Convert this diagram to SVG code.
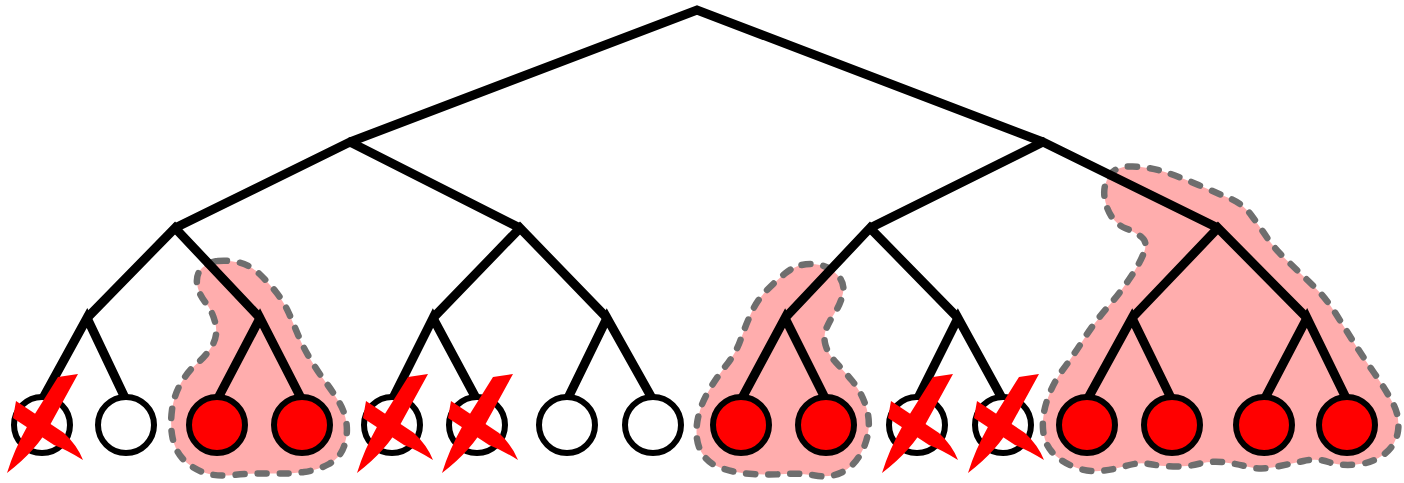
<svg xmlns="http://www.w3.org/2000/svg" xmlns:xlink="http://www.w3.org/1999/xlink" width="1404" height="483" viewBox="0 0 1404 483">
<style>
.blob{fill:#ffadad;stroke:#6e6e6e;stroke-width:6.5;stroke-dasharray:9 13;stroke-linecap:round;stroke-linejoin:round}
.edge{fill:none;stroke:#000;stroke-width:9;stroke-linejoin:miter;stroke-miterlimit:10}
.leaf{stroke:#000;stroke-width:6}
.on{fill:#ff0000}
.off{fill:#ffffff}
.x{fill:#ff0000}
</style>
<defs>
<g id="cross" class="x">
<path d="M16,-48 L36,-51 L8,0 Q-5,25 -35,48 Q-28,25 -14,0 Z"/>
<path d="M-26,-24 L22,8 Q35,20 41,35 Q25,25 12,20 L-29,-7 Z"/>
</g>
</defs>
<rect width="1404" height="483" fill="#fff"/>
<g id="highlights">
<path id="region-a" class="blob" d="M218,261 Q228,260 239,262.5 Q250,265 259,273.5 Q268,282 276,292 Q284,302 289,313.5 Q294,325 298.5,336 Q303,347 310.5,359.5 Q318,372 325.5,382 Q333,392 339,402 Q345,412 346.5,423.5 Q348,435 344,446.5 Q340,458 329,464 Q318,470 304,472 Q290,474 271.5,473.5 Q253,473 234,475 Q215,477 202.5,472 Q190,467 182.5,458.5 Q175,450 172.5,437.5 Q170,425 172,410 Q174,395 181,383 Q188,371 197,363.5 Q206,356 212,346 Q218,336 215.5,324 Q213,312 205.5,302.5 Q198,293 197,283.5 Q196,274 202,268 Q208,262 218,261Z"/>
<path id="region-b" class="blob" d="M801.5,265 Q810,263 820,265 Q830,267 837.5,275 Q845,283 843,293 Q841,303 835.5,311.5 Q830,320 826.5,328 Q823,336 825.5,345 Q828,354 835.5,362 Q843,370 851.5,380 Q860,390 865,403.5 Q870,417 868.5,430 Q867,443 860,455 Q853,467 841.5,472.5 Q830,478 815,475.5 Q800,473 785,474 Q770,475 752.5,474 Q735,473 721,468 Q707,463 701,451.5 Q695,440 697,424 Q699,408 707.5,393 Q716,378 726,365.5 Q736,353 740.5,340 Q745,327 751,313.5 Q757,300 767,290 Q777,280 785,273.5 Q793,267 801.5,265Z"/>
<path id="region-c" class="blob" d="M1109,176 Q1115,166 1132.5,166.5 Q1150,167 1165,172 Q1180,177 1198.5,185 Q1217,193 1230,198.5 Q1243,204 1251.5,215.5 Q1260,227 1267,237.5 Q1274,248 1287,260.5 Q1300,273 1313,285.5 Q1326,298 1336,314 Q1346,330 1354.5,343.5 Q1363,357 1374.5,373.5 Q1386,390 1393,403.5 Q1400,417 1398,431 Q1396,445 1384.5,454 Q1373,463 1356.5,464.5 Q1340,466 1328.5,462 Q1317,458 1303.5,461 Q1290,464 1275,467 Q1260,470 1246.5,466.5 Q1233,463 1221.5,462 Q1210,461 1198,464 Q1186,467 1173,466.5 Q1160,466 1149,464 Q1138,462 1125.5,466 Q1113,470 1099.5,471 Q1086,472 1073,466.5 Q1060,461 1052,452 Q1044,443 1043,429 Q1042,415 1047.5,399 Q1053,383 1063,369.5 Q1073,356 1083.5,339.5 Q1094,323 1107,308 Q1120,293 1130,278 Q1140,263 1144,252.5 Q1148,242 1141.5,237 Q1135,232 1126,228.5 Q1117,225 1111.5,216.5 Q1106,208 1104.5,197 Q1103,186 1109,176Z"/>
</g>
<g id="connectors">
<path class="edge" d="M350,142 L697,10 L1043,142"/>
<path class="edge" d="M175,228 L350,142 L520,228"/>
<path class="edge" d="M870,228 L1043,142 L1218,228"/>
<path class="edge" d="M87,318 L175,228 L260,318"/>
<path class="edge" d="M433,318 L520,228 L607,318"/>
<path class="edge" d="M785,318 L870,228 L958,318"/>
<path class="edge" d="M1132,318 L1218,228 L1307,318"/>
<path class="edge" d="M42,400 L87,318 L126,400"/>
<path class="edge" d="M217,400 L260,318 L302,400"/>
<path class="edge" d="M392,400 L433,318 L477,400"/>
<path class="edge" d="M567,400 L607,318 L653,400"/>
<path class="edge" d="M741,400 L785,318 L826,400"/>
<path class="edge" d="M917,400 L958,318 L1003,400"/>
<path class="edge" d="M1087,400 L1132,318 L1172,400"/>
<path class="edge" d="M1264,400 L1307,318 L1347,400"/>
</g>
<g id="leaf-1"><circle class="leaf off" cx="42" cy="425" r="28"/><use xlink:href="#cross" href="#cross" x="42" y="425"/></g>
<g id="leaf-2"><circle class="leaf off" cx="126" cy="425" r="28"/></g>
<g id="leaf-3"><circle class="leaf on" cx="217" cy="425" r="28"/></g>
<g id="leaf-4"><circle class="leaf on" cx="302" cy="425" r="28"/></g>
<g id="leaf-5"><circle class="leaf off" cx="392" cy="425" r="28"/><use xlink:href="#cross" href="#cross" x="392" y="425"/></g>
<g id="leaf-6"><circle class="leaf off" cx="477" cy="425" r="28"/><use xlink:href="#cross" href="#cross" x="477" y="425"/></g>
<g id="leaf-7"><circle class="leaf off" cx="567" cy="425" r="28"/></g>
<g id="leaf-8"><circle class="leaf off" cx="653" cy="425" r="28"/></g>
<g id="leaf-9"><circle class="leaf on" cx="741" cy="425" r="28"/></g>
<g id="leaf-10"><circle class="leaf on" cx="826" cy="425" r="28"/></g>
<g id="leaf-11"><circle class="leaf off" cx="917" cy="425" r="28"/><use xlink:href="#cross" href="#cross" x="917" y="425"/></g>
<g id="leaf-12"><circle class="leaf off" cx="1003" cy="425" r="28"/><use xlink:href="#cross" href="#cross" x="1003" y="425"/></g>
<g id="leaf-13"><circle class="leaf on" cx="1087" cy="425" r="28"/></g>
<g id="leaf-14"><circle class="leaf on" cx="1172" cy="425" r="28"/></g>
<g id="leaf-15"><circle class="leaf on" cx="1264" cy="425" r="28"/></g>
<g id="leaf-16"><circle class="leaf on" cx="1347" cy="425" r="28"/></g>
</svg>
